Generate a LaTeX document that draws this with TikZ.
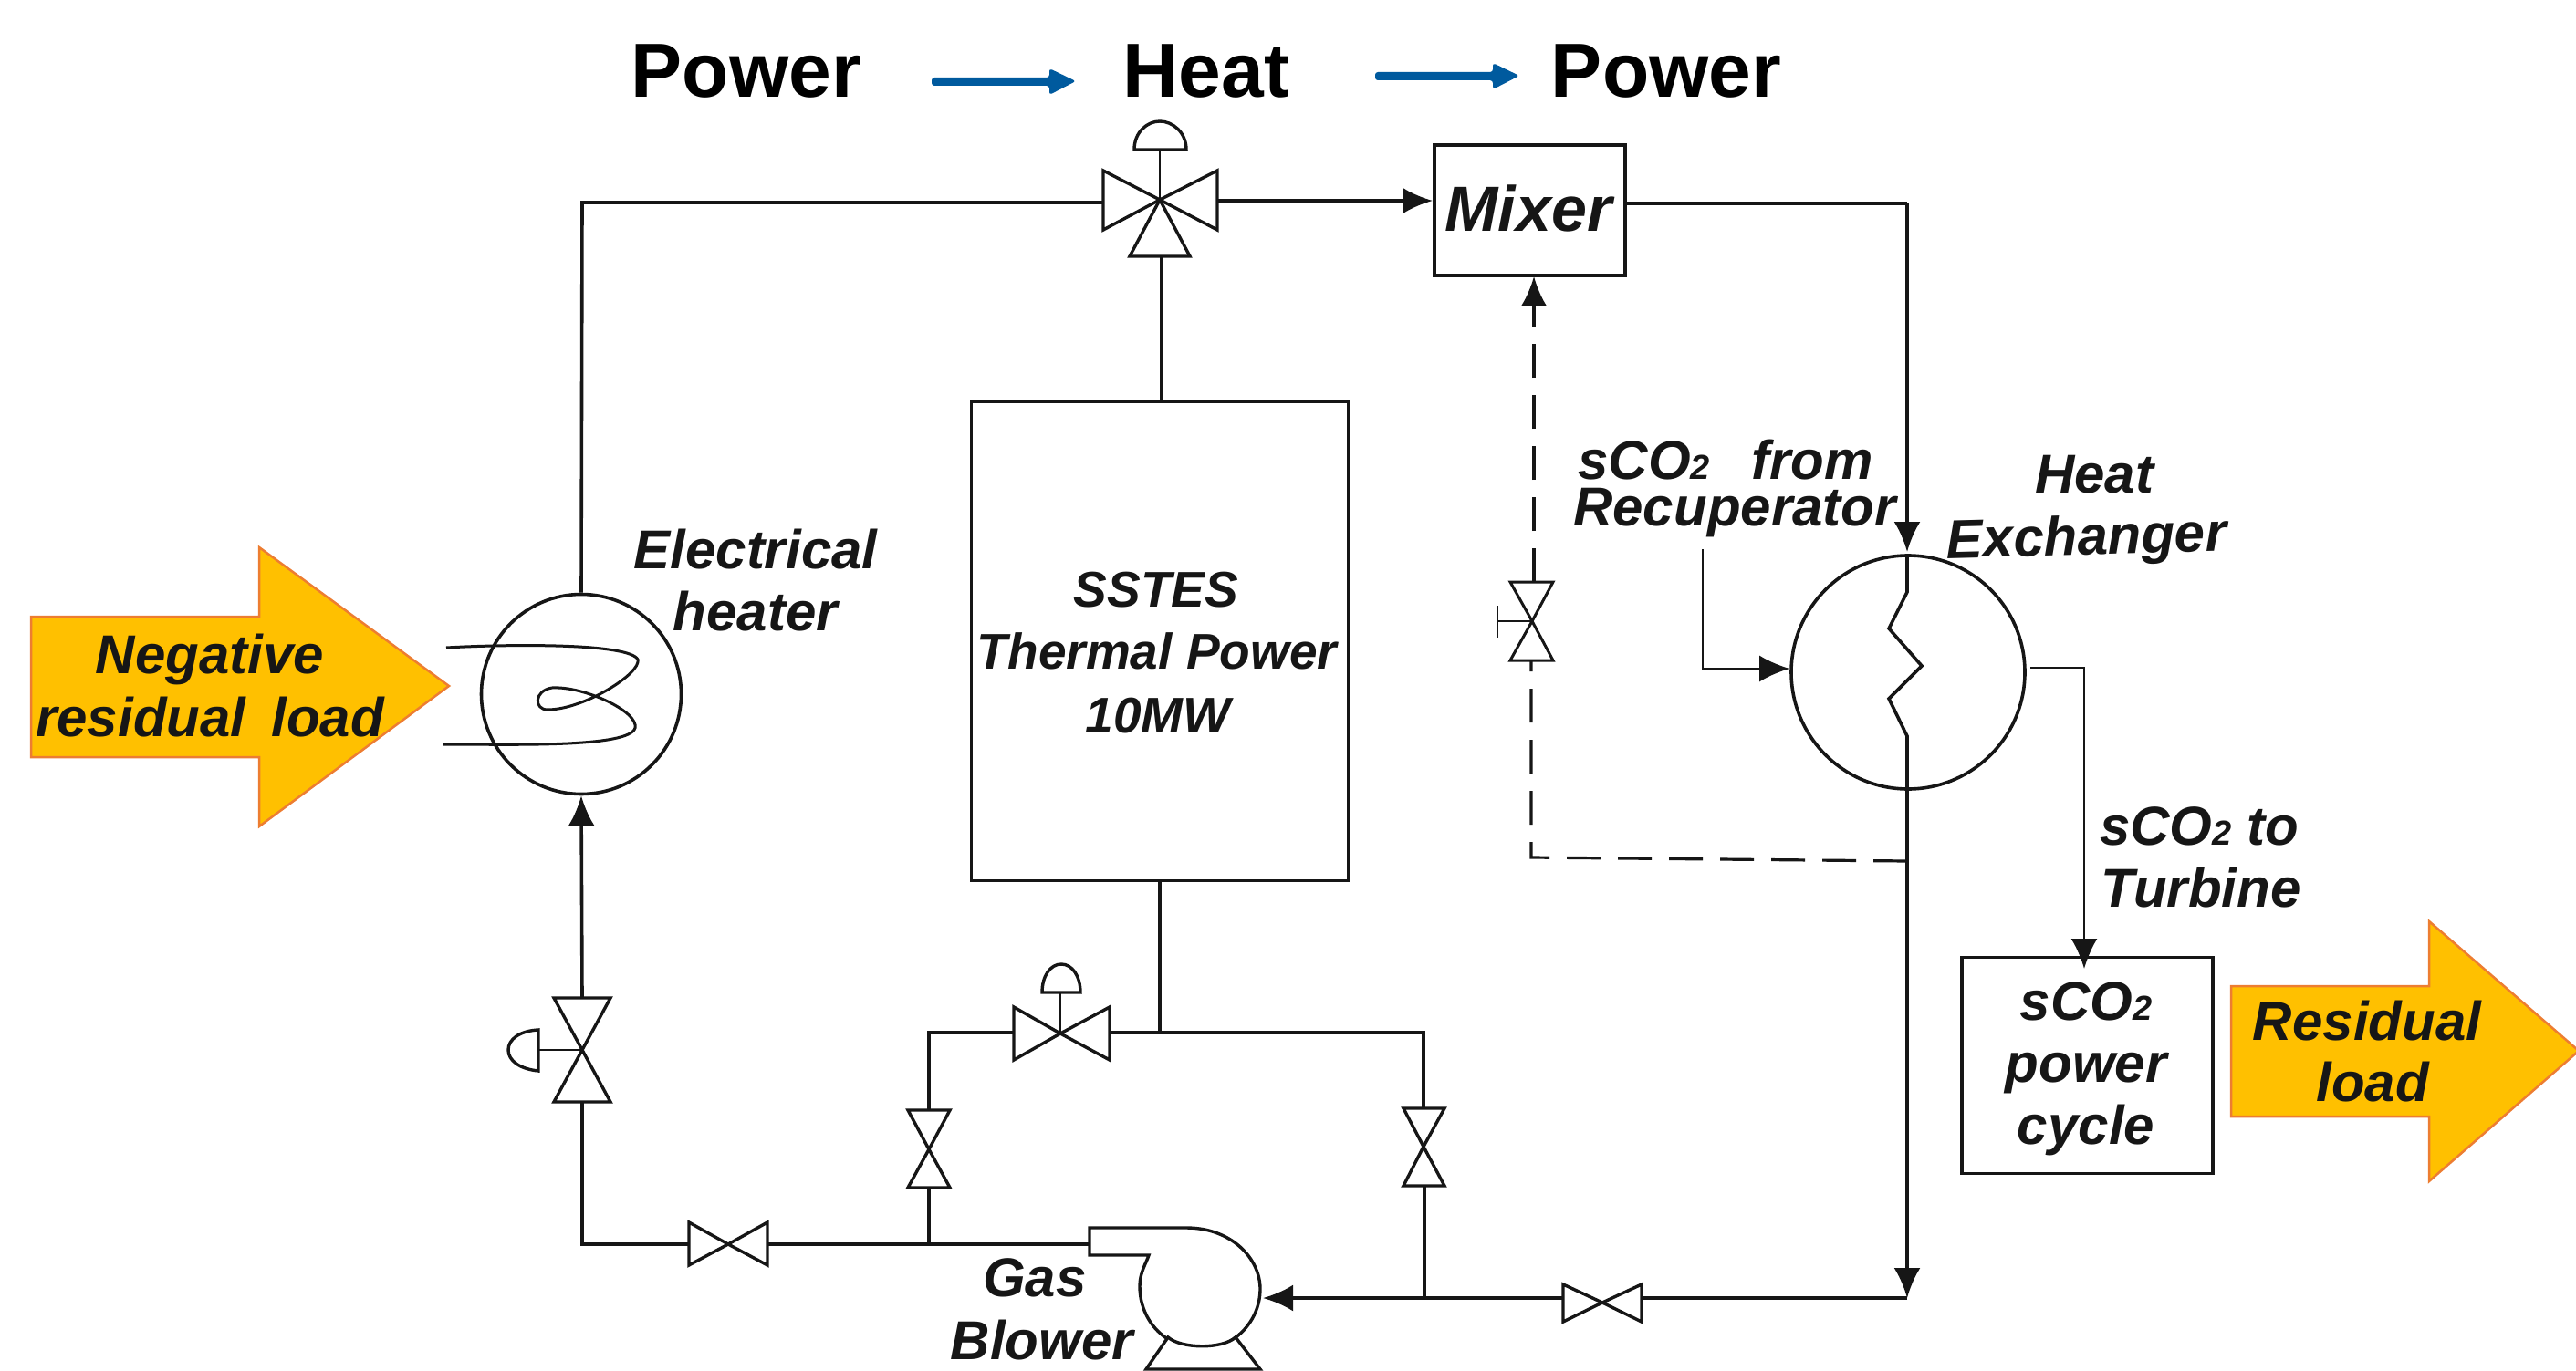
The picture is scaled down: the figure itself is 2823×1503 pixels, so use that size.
\documentclass[tikz,border=0pt]{standalone}
\usepackage{fontspec}
\setmainfont{Liberation Sans}
\usetikzlibrary{arrows.meta}
\definecolor{ink}{HTML}{161616}
\definecolor{amber}{HTML}{FFC000}
\definecolor{amberedge}{HTML}{ED7D31}
\definecolor{flowblue}{HTML}{005A9E}
\tikzset{
  x=1pt,y=-1pt,
  pipe/.style={draw=ink,line width=3.6pt},
  thinpipe/.style={draw=ink,line width=2.6pt},
  dashpipe/.style={draw=ink,line width=3.2pt,dash pattern=on 37pt off 19pt},
  sym/.style={draw=ink,line width=3.4pt,line join=miter,fill=white},
  tip/.style={-{Latex[length=33pt,width=29pt]}},
  lab/.style={font=\bfseries\itshape\fontsize{60}{60}\selectfont,text=ink,inner sep=0pt,anchor=base},
  head/.style={font=\bfseries\fontsize{84}{84}\selectfont,text=black,inner sep=0pt,anchor=base},
  blockarrow/.style={fill=amber,draw=amberedge,line width=2.5pt,line join=miter},
  flow/.style={fill=flowblue,draw=none},
  box/.style={draw=ink,line width=3.6pt,fill=white,inner sep=0pt,anchor=north west},
  ball/.style={draw=ink,line width=3.6pt,circle,inner sep=0pt,fill=white}
}
\begin{document}
\begin{tikzpicture}
\useasboundingbox[fill=white] (0,0) rectangle (2823,1503);
% block arrows
\path[blockarrow] (34,676) -- (284,676) -- (284,600) -- (492,752) -- (284,906) -- (284,830) -- (34,830) -- cycle;
\path[blockarrow] (2445,1081) -- (2662,1081) -- (2662,1010) -- (2826,1152) -- (2662,1295) -- (2662,1224) -- (2445,1224) -- cycle;
% heading
\node[head] (p1) at (818,107) {Power};
\node[head] (h) at (1322,107) {Heat};
\node[head] (p2) at (1826,107) {Power};
\path[flow,rounded corners=3pt] (1021,85) -- (1150,85) -- (1150,75) -- (1179,89) -- (1150,104) -- (1150,94) -- (1021,94) -- cycle;
\path[flow,rounded corners=3pt] (1507,79) -- (1636,79) -- (1636,69) -- (1665,83) -- (1636,98) -- (1636,88) -- (1507,88) -- cycle;
% boxes
\node[box,minimum width=209pt,minimum height=143pt] (mixer) at (1570,157.5) {};
\node[box,minimum width=413pt,minimum height=525pt] (tes) at (1062.5,438.5) {};
\node[box,minimum width=275pt,minimum height=237pt] (cycle) at (2148,1047.5) {};
\node[ball,minimum size=219pt] (heater) at (637,761) {};
\node[ball,minimum size=256pt] (hx) at (2091,737) {};
% junction coordinates
\coordinate (hxin) at (1866,733);
\coordinate (hxout) at (2284,732);
% pipes
\draw[pipe] (heater.north) -- (638,222) -- (1209,222);
\draw[pipe,tip] (1334,220) -- (mixer.west |- 0,220);
\draw[pipe] (1781,223) -- (2090,223);
\draw[pipe,tip] (2090,223) -- (2090,605);
\draw[pipe] (1273,281) -- (tes.north -| 1273,0);
\draw[pipe] (1271,965) -- (1271,1132);
\draw[pipe] (1216,1132) -- (1560,1132) -- (1560,1215);
\draw[pipe] (1111,1132) -- (1018,1132) -- (1018,1216);
\draw[pipe] (1018,1302) -- (1018,1364);
\draw[pipe] (638,1208) -- (638,1364) -- (755,1364);
\draw[pipe] (841,1364) -- (1194,1364);
\draw[pipe,tip] (638,1094) -- (heater.south);
\draw[pipe] (1561,1300) -- (1561,1423);
\draw[pipe,tip] (1713,1423) -- (1384,1423);
\draw[pipe] (2090,1423) -- (1799,1423);
\draw[pipe] (hx.south -| 2090,0) -- (2090,1395);
\draw[pipe,tip] (2090,1380) -- (2090,1423);
% dashed bypass
\draw[dashpipe] (2090,944) -- (1678,940) -- (1678,724);
\draw[dashpipe] (1681,638) -- (1681,336);
\draw[pipe,tip] (1681,342) -- (1681,303);
% recuperator and outlet
\draw[thinpipe,tip] (1866,602) -- (hxin) -- (hx.west |- hxin);
\draw[thinpipe,tip] (2225,732) -- (hxout) -- (2284,1062);
% zigzag
\draw[pipe,line join=miter] (2090,609) -- (2090,649) -- (2070,689) -- (2106,730) -- (2070,766) -- (2090,807) -- (2090,865);
% coil
\draw[pipe,line width=3pt] (489,710) .. controls (560,706) and (690,705) .. (699,723)
  .. controls (703,738) and (640,778) .. (600,778)
  .. controls (585,778) and (585,757) .. (605,754)
  .. controls (640,752) and (700,780) .. (696,798)
  .. controls (690,820) and (560,816) .. (485,816);
% three way valve
\path[sym] (1271,219) -- (1209,187) -- (1209,252) -- cycle;
\path[sym] (1271,219) -- (1334,187) -- (1334,252) -- cycle;
\path[sym] (1271,219) -- (1238,281) -- (1304,281) -- cycle;
\draw[thinpipe] (1271,219) -- (1271,164);
\path[sym] (1243,164) -- (1300,164) .. controls (1300,145) and (1285,133) .. (1271,133) .. controls (1257,133) and (1243,145) .. (1243,164) -- cycle;
% heater valve
\path[sym] (638,1151) -- (607,1094) -- (669,1094) -- cycle;
\path[sym] (638,1151) -- (607,1208) -- (669,1208) -- cycle;
\draw[thinpipe] (638,1151) -- (590,1151);
\path[sym] (590,1129) -- (590,1174) .. controls (570,1172) and (557,1163) .. (557,1151) .. controls (557,1139) and (570,1130) .. (590,1129) -- cycle;
% horizontal valves
\path[sym] (798,1364) -- (755,1340) -- (755,1387) -- cycle;
\path[sym] (798,1364) -- (841,1340) -- (841,1387) -- cycle;
\path[sym] (1756,1428) -- (1713,1408) -- (1713,1449) -- cycle;
\path[sym] (1756,1428) -- (1799,1408) -- (1799,1449) -- cycle;
% top of loop valve
\path[sym] (1162,1133) -- (1111,1104) -- (1111,1162) -- cycle;
\path[sym] (1162,1133) -- (1216,1104) -- (1216,1162) -- cycle;
\draw[thinpipe] (1162,1133) -- (1162,1088);
\path[sym] (1142,1088) -- (1184,1088) .. controls (1184,1070) and (1175,1057) .. (1163,1057) .. controls (1151,1057) and (1142,1070) .. (1142,1088) -- cycle;
% vertical valves
\path[sym] (1018,1260) -- (995,1217) -- (1041,1217) -- cycle;
\path[sym] (1018,1260) -- (995,1302) -- (1041,1302) -- cycle;
\path[sym] (1560,1257) -- (1538,1215) -- (1583,1215) -- cycle;
\path[sym] (1560,1257) -- (1538,1300) -- (1583,1300) -- cycle;
% dashed valve
\path[sym,line width=3pt] (1679,681) -- (1655,638) -- (1702,638) -- cycle;
\path[sym,line width=3pt] (1679,681) -- (1655,724) -- (1702,724) -- cycle;
\draw[thinpipe] (1679,681) -- (1641,681);
\draw[thinpipe] (1641,664) -- (1641,699);
% blower
\draw[sym,fill=white] (1194,1364) -- (1194,1346) -- (1300,1346) .. controls (1350,1346) and (1381,1380) .. (1381,1413)
  .. controls (1381,1450) and (1350,1479) .. (1317,1479)
  .. controls (1280,1479) and (1249,1450) .. (1249,1410)
  .. controls (1249,1395) and (1256,1385) .. (1259,1376) -- (1194,1376) -- cycle;
\path[sym] (1280,1466) -- (1256,1501) -- (1381,1501) -- (1354,1466) .. controls (1340,1479) and (1295,1479) .. (1280,1466) -- cycle;
% labels
\node[lab] (lneg) at (230,738) {Negative};
\node[lab] (lres) at (230,807) {residual\hspace{28pt}load};
\node[lab] (lel) at (828,623) {Electrical};
\node[lab] (lhe) at (828,691) {heater};
\node[lab,font=\bfseries\itshape\fontsize{70}{70}\selectfont] (lmix) at (1675,254) {Mixer};
\node[lab,font=\bfseries\itshape\fontsize{55}{55}\selectfont] (l1) at (1267,665) {SSTES};
\node[lab,font=\bfseries\itshape\fontsize{55}{55}\selectfont] (l2) at (1268,733) {Thermal Power};
\node[lab,font=\bfseries\itshape\fontsize{55}{55}\selectfont] (l3) at (1269,803) {10MW};
\node[lab,align=center,anchor=north,font=\bfseries\itshape\fontsize{60}{51}\selectfont] (lfrom) at (1901,482) {sCO{\fontsize{38}{38}\selectfont 2}\hspace{45pt}from\hspace*{20pt}\\Recuperator};
\node[lab] (lheat) at (2295,540) {Heat};
\node[lab,rotate=1.5] (lex) at (2287,608) {Exchanger};
\node[lab] (lto) at (2410,926) {sCO{\fontsize{38}{38}\selectfont 2} to};
\node[lab] (ltu) at (2412,994) {Turbine};
\node[lab] (lc1) at (2286,1118) {sCO{\fontsize{38}{38}\selectfont 2}};
\node[lab] (lc2) at (2286,1186) {power};
\node[lab] (lc3) at (2286,1254) {cycle};
\node[lab] (lr1) at (2594,1140) {Residual};
\node[lab] (lr2) at (2600,1207) {load};
\node[lab] (lg) at (1134,1421) {Gas};
\node[lab] (lb) at (1142,1490) {Blower};
\end{tikzpicture}
\end{document}
